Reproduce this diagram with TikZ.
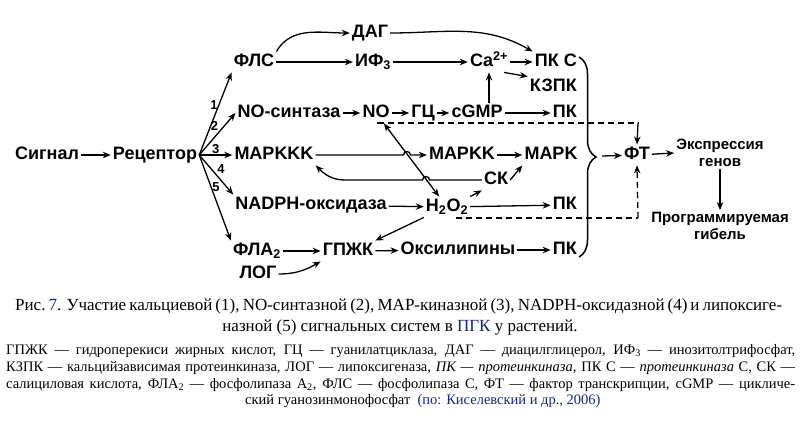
\documentclass[tikz,border=0pt]{standalone}
\usepackage{fontspec}
\setmainfont{Liberation Serif}
\setsansfont{Liberation Sans}
\usepackage{xcolor}
\usetikzlibrary{arrows.meta,decorations.pathreplacing}
\definecolor{citeblue}{RGB}{25,35,125}

\begin{document}
\begin{tikzpicture}[x=1pt,y=-1pt,
    term/.style={inner sep=2pt, font=\sffamily\bfseries\fontsize{18}{20}\selectfont, text height=13pt, text depth=3.5pt},
    smalltext/.style={inner sep=2pt, font=\sffamily\bfseries\fontsize{15}{17}\selectfont, align=center},
    numlbl/.style={inner sep=0.5pt, font=\sffamily\bfseries\fontsize{13}{13}\selectfont},
    arr/.style={-{Stealth[length=8pt,width=6.5pt]}, line width=1.3pt},
    dashline/.style={line width=1.3pt, dash pattern=on 6pt off 4pt},
    captext/.style={anchor=base west, inner sep=0pt, font=\fontsize{17}{20}\selectfont},
    legtext/.style={anchor=base west, inner sep=0pt, font=\fontsize{14.5}{17}\selectfont}]
        \useasboundingbox (0,0) rectangle (800,428);
        % Signal and receptor
        \node[term] (sig) at (47,155) {Сигнал};
        \node[term] (rec) at (155,155) {Рецептор};
        % calcium branch
        \node[term] (fls) at (254,62) {ФЛС};
        \node[term] (dag) at (370,33) {ДАГ};
        \node[term] (ifz) at (373,62) {ИФ\textsubscript{3}};
        \node[term] (ca) at (489,62) {Ca\textsuperscript{2+}};
        \node[term, anchor=east] (pkc) at (579,62) {ПК С};
        \node[term, anchor=east] (kzpk) at (579,87) {КЗПК};
        % NO branch
        \node[term] (nos) at (289,113) {NO-синтаза};
        \node[term] (no) at (376,113) {NO};
        \node[term] (gc) at (423,113) {ГЦ};
        \node[term] (cgmp) at (477,113) {cGMP};
        \node[term, anchor=east] (pka) at (579,113) {ПК};
        % MAP kinase branch
        \node[term] (mapkkk) at (274,155) {MAPKKK};
        \node[term] (mapkk) at (462,155) {MAPKK};
        \node[term] (mapk) at (551,155) {MAPK};
        \node[term] (sk) at (496,180) {СК};
        % NADPH branch
        \node[term] (nadph) at (311,205) {NADPH-оксидаза};
        \node[term] (hoh) at (447,207) {H\textsubscript{2}O\textsubscript{2}};
        \node[term, anchor=east] (pkb) at (579,205) {ПК};
        % lipoxygenase branch
        \node[term] (fla) at (257,251) {ФЛА\textsubscript{2}};
        \node[term] (gpzk) at (348,251) {ГПЖК};
        \node[term] (log) at (258,274) {ЛОГ};
        \node[term] (oxy) at (458,250) {Оксилипины};
        \node[term, anchor=east] (pkd) at (579,250) {ПК};
        % response
        \node[term] (ft) at (637,155) {ФТ};
        \node[smalltext] (expr) at (720,153) {Экспрессия\\генов};
        \node[smalltext] (death) at (720,226) {Программируемая\\гибель};
        \coordinate (brtop) at (579,57);
        \coordinate (brbot) at (579,257);
        \coordinate (brtip) at (602,156);
        \coordinate (hopa) at (407,155);
        \coordinate (hopb) at (426,180);
        \coordinate (skbend) at (345,180);
        \coordinate (dno) at (638,123);
        \coordinate (dhoh) at (638,218);

        \draw[arr] (sig) -- (rec);
        \draw[arr] (rec.east) -- (fls.south west) node[numlbl, pos=0.6, left] {1};
        \draw[arr] (rec.east) -- (nos.west) node[numlbl, pos=0.55, above left] {2};
        \draw[arr] (rec.east) -- (mapkkk.west) node[numlbl, pos=0.5, above] {3};
        \draw[arr] (rec.east) -- (nadph.north west) node[numlbl, pos=0.5, above right] {4};
        \draw[arr] (rec.east) -- (fla.north west) node[numlbl, pos=0.38, right] {5};

        \draw[arr] (fls.north east) to[out=60,in=180] (dag.west);
        \draw[arr] (dag.east) to[out=0,in=150] (pkc.north west);
        \draw[arr] (fls) -- (ifz);
        \draw[arr] (ifz) -- (ca.west);
        \draw[arr] (ca.east) -- (pkc.west);
        \draw[arr] ([xshift=-6pt]ca.south east) -- (kzpk.north west);
        \draw[arr] (ca.south |- cgmp.north) -- (ca.south);

        \draw[arr] (nos) -- (no);
        \draw[arr] (no) -- (gc);
        \draw[arr] (gc) -- (cgmp);
        \draw[arr] (cgmp) -- (pka);
        \draw[{Stealth[length=8pt,width=6.5pt]}-{Stealth[length=8pt,width=6.5pt]}, line width=1.3pt] (no) -- (hoh);

        \draw[arr] (mapkkk.east) -- ([xshift=-3.5pt]hopa) arc[start angle=180,end angle=0,radius=3.5pt] -- (mapkk.west);
        \draw[arr] (mapkk) -- (mapk);
        \draw[arr] (sk.west) -- ([xshift=3.5pt]hopb) arc[start angle=0,end angle=180,radius=3.5pt] -- (skbend) to[out=180,in=-45] (mapkkk.south east);
        \draw[arr] (sk.east) -- (mapk.south west);

        \draw[arr] (nadph) -- (hoh);
        \draw[arr] (hoh.north east) -- (sk.south west);
        \draw[arr] (hoh) -- (pkb);
        \draw[arr] (hoh.south west) -- (gpzk.north east);

        \draw[arr] (fla) -- (gpzk);
        \draw[arr] (log.east) to[out=0,in=210] (gpzk.south west);
        \draw[arr] (gpzk) -- (oxy);
        \draw[arr] (oxy) -- (pkd);

        % brace and response
        \draw[line width=1.5pt, decorate, decoration={brace, amplitude=17pt}] (brtop) -- (brbot);
        \draw[arr] (brtip) -- (ft);
        \draw[arr] (ft) -- (expr.west);
        \draw[arr] (expr) -- (death);
        \draw[dashline] ([xshift=2pt]no.south) |- (dno);
        \draw[arr] (dno) -- (ft.north);
        \draw[dashline] ([xshift=10pt]hoh.south) |- (dhoh);
        \draw[arr, dashline] (dhoh) -- (ft.south);

        % caption and legend
        \node[captext] (capa) at (15,310) {\makebox[767pt][s]{Рис.~{\color{citeblue}7}. Участие кальциевой (1), NO-синтазной (2), MAP-киназной (3), NADPH-оксидазной (4) и липоксиге-}};
        \node[captext, anchor=base] (capb) at (400,331) {назной (5) сигнальных систем в {\color{citeblue}ПГК} у растений.};
        \node[legtext] (lega) at (6,354) {\makebox[789pt][s]{ГПЖК — гидроперекиси жирных кислот, ГЦ — гуанилатциклаза, ДАГ — диацилглицерол, ИФ\textsubscript{3} — инозитолтрифосфат,}};
        \node[legtext] (legb) at (6,371) {\makebox[789pt][s]{КЗПК — кальцийзависимая протеинкиназа, ЛОГ — липоксигеназа, \textit{ПК — протеинкиназа}, ПК С — \textit{протеинкиназа} С, СК —}};
        \node[legtext] (legc) at (6,388) {\makebox[789pt][s]{салициловая кислота, ФЛА\textsubscript{2} — фосфолипаза А\textsubscript{2}, ФЛС — фосфолипаза С, ФТ — фактор транскрипции, cGMP — цикличе-}};
        \node[legtext] (legd) at (245,404) {ский гуанозинмонофосфат \ {\color{citeblue}(по: Киселевский и др., 2006)}};
    \end{tikzpicture}
\end{document}
